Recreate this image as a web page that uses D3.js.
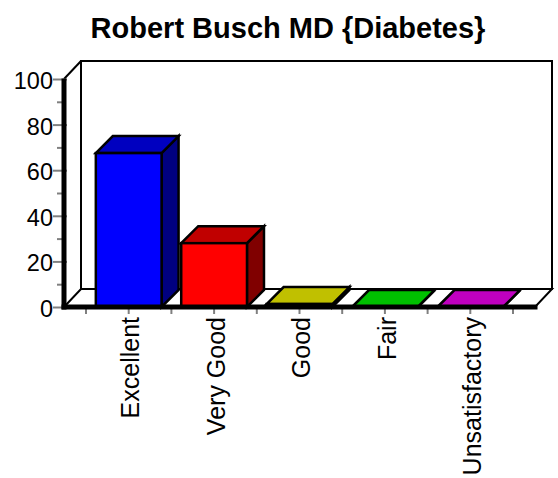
<!DOCTYPE html>
<html>
<head>
<meta charset="utf-8">
<script src="https://cdn.jsdelivr.net/npm/d3@7"></script>
<style>
html, body { margin: 0; padding: 0; background: #fff; }
svg { display: block; }
text { font-family: "Liberation Sans", Arial, sans-serif; fill: #000; }
</style>
</head>
<body>
<script>
// Data
const categories = ['Excellent', 'Very Good', 'Good', 'Fair', 'Unsatisfactory'];
const values = [67.5, 28, 1.3, 0, 0];
const barColors = ['#0000ff', '#ff0000', '#c0c000', '#00c000', '#c000c0'];
const topColors = ['#0000c0', '#c00000', '#c0c000', '#00c000', '#c000c0'];
const sideColors = ['#000080', '#800000', '#808000', '#008000', '#800080'];
const yTicks = [0, 20, 40, 60, 80, 100];
const yMinorTicks = [10, 30, 50, 70, 90];
const titleText = 'Robert Busch MD {Diabetes}';

// Constants
const width = 558;
const height = 478;
const depth = { x: 17, y: -18 };
const barDepth = { x: 17, y: -17 };
const plot = { left: 64, right: 535, top: 79, bottom: 307 };

const svg = d3.select('body').append('svg').attr('width', width).attr('height', height);

const x = d3.scaleBand().domain(categories).range([86, 513]).paddingInner(0.23).paddingOuter(0.115);
const xMinor = d3.scaleLinear().domain([0, 5]).range([86, 513]);
const y = d3.scaleLinear().domain([0, 100]).range([plot.bottom, plot.top]);

const poly = (pts) => 'M' + pts.map((p) => p.join(',')).join('L') + 'Z';

svg.append('text')
	.attr('x', 288)
	.attr('y', 38)
	.attr('text-anchor', 'middle')
	.attr('font-size', 29)
	.attr('font-weight', 'bold')
	.text(titleText);

// Back wall and floor
const wall = svg.append('g').attr('stroke', '#000').attr('fill', '#fff').attr('stroke-width', 2);
wall.append('path').attr('d', poly([
	[plot.left + depth.x, plot.top + depth.y],
	[plot.right + depth.x, plot.top + depth.y],
	[plot.right + depth.x, plot.bottom + depth.y],
	[plot.left + depth.x, plot.bottom + depth.y],
]));
wall.append('path').attr('d', poly([
	[plot.left, plot.bottom],
	[plot.left + depth.x, plot.bottom + depth.y],
	[plot.right + depth.x, plot.bottom + depth.y],
	[plot.right, plot.bottom],
]));
wall.append('line')
	.attr('x1', plot.left).attr('y1', plot.top)
	.attr('x2', plot.left + depth.x).attr('y2', plot.top + depth.y);

// Ticks
const yAxisMinor = d3.axisLeft(y).tickValues(yMinorTicks).tickSize(6).tickFormat('');
const gMinor = svg.append('g').attr('transform', `translate(${plot.left - 1},0)`).call(yAxisMinor);
gMinor.select('.domain').remove();
gMinor.selectAll('line').attr('stroke', '#808080').attr('stroke-width', 2).attr('x2', -6);

const gY = svg.append('g')
	.attr('transform', `translate(${plot.left + 3},0)`)
	.call(d3.axisLeft(y).tickValues(yTicks).tickSize(14).tickPadding(0));
gY.select('.domain').remove();
gY.selectAll('line').attr('stroke', '#808080').attr('stroke-width', 2);
gY.selectAll('text')
	.attr('font-size', 23.5)
	.attr('font-family', '"Liberation Sans", Arial, sans-serif')
	.attr('dy', '0.4em');

const gXMinor = svg.append('g').attr('transform', `translate(0,${plot.bottom})`);
gXMinor.selectAll('line')
	.data(d3.range(0, 6))
	.join('line')
	.attr('x1', (d) => xMinor(d))
	.attr('x2', (d) => xMinor(d))
	.attr('y1', 0)
	.attr('y2', 7)
	.attr('stroke', '#808080')
	.attr('stroke-width', 2);

const gX = svg.append('g')
	.attr('transform', `translate(0,${plot.bottom})`)
	.call(d3.axisBottom(x).tickSize(7).tickPadding(0));
gX.select('.domain').remove();
gX.selectAll('line').attr('stroke', '#808080').attr('stroke-width', 2);
gX.selectAll('text')
	.attr('font-size', 25)
	.attr('font-family', '"Liberation Sans", Arial, sans-serif')
	.attr('text-anchor', 'end')
	.attr('transform', 'rotate(-90)')
	.attr('x', -10)
	.attr('y', 2)
	.attr('dy', '0.35em');

// Bars, each with its top and side faces
const bars = svg.append('g')
	.attr('stroke', '#000')
	.attr('stroke-width', 2.5)
	.attr('stroke-linejoin', 'miter');

categories.forEach((c, i) => {
	const x0 = x(c);
	const x1 = x0 + x.bandwidth();
	const yt = y(values[i]);
	const yb = y(0);
	const g = bars.append('g');
	g.append('path')
		.attr('fill', sideColors[i])
		.attr('d', poly([[x1, yt], [x1 + barDepth.x, yt + barDepth.y], [x1 + barDepth.x, yb + barDepth.y], [x1, yb]]));
	g.append('path')
		.attr('fill', topColors[i])
		.attr('d', poly([[x0, yt], [x0 + barDepth.x, yt + barDepth.y], [x1 + barDepth.x, yt + barDepth.y], [x1, yt]]));
	if (values[i] > 0) {
		g.append('rect')
			.attr('x', x0)
			.attr('y', yt)
			.attr('width', x.bandwidth())
			.attr('height', yb - yt)
			.attr('fill', barColors[i]);
	}
});

// Thick front axes
const axes = svg.append('g').attr('stroke', '#000').attr('stroke-width', 5).attr('stroke-linecap', 'square');
axes.append('line')
	.attr('x1', plot.left).attr('y1', plot.top + 2)
	.attr('x2', plot.left).attr('y2', plot.bottom);
axes.append('line')
	.attr('x1', plot.left).attr('y1', plot.bottom)
	.attr('x2', plot.right).attr('y2', plot.bottom);
</script>
</body>
</html>
